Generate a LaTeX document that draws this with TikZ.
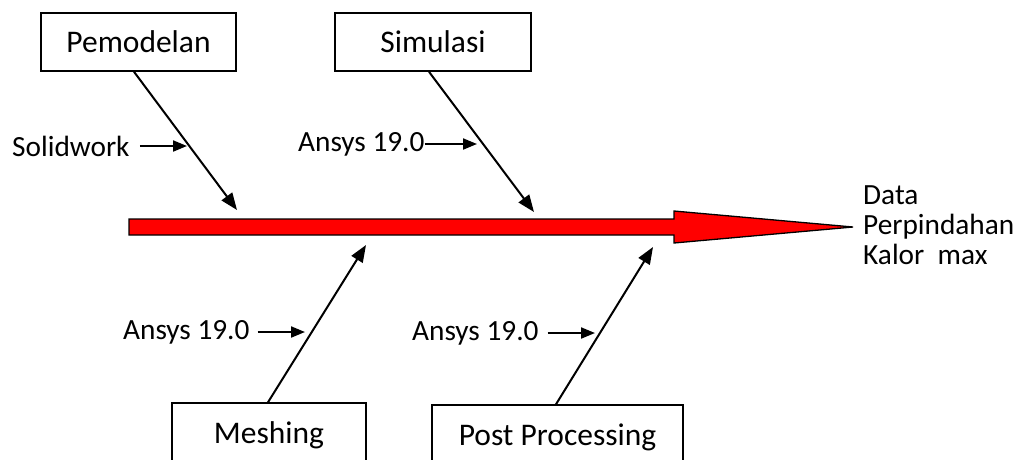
\documentclass[tikz,border=0pt]{standalone}
\usepackage{fontspec}
\setmainfont{Carlito}
\usetikzlibrary{arrows.meta,calc}
\begin{document}
\begin{tikzpicture}[x=1pt,y=-1pt,
  box/.style={draw,line width=1.5pt,minimum height=58pt,inner sep=0pt,font=\fontsize{31.5}{32}\selectfont},
  lbl/.style={font=\fontsize{29.3}{30}\selectfont,inner sep=0pt},
  bone/.style={line width=2pt,-{Triangle[length=17pt,width=13pt]}},
  tick/.style={line width=2pt,-{Triangle[length=14pt,width=11pt]}},
  spine/.style={fill=red,draw=black,line width=1.3pt,line join=miter}]
\useasboundingbox (0,0) rectangle (1016,459);
\clip (0,0) rectangle (1016,459);

% boxes
\node[box,minimum width=195pt] (pem) at (138.5,42) {Pemodelan};
\node[box,minimum width=196pt] (sim) at (433,42) {Simulasi};
\node[box,minimum width=194pt,minimum height=64pt] (mesh) at (269,435) {Meshing};
\node[box,minimum width=251pt,minimum height=64pt] (post) at (557.5,437) {Post Processing};

% main red arrow
\coordinate (tip) at (853,227);
\draw[spine] (129,219) -- (674,219) -- (674,211) -- (tip) -- (674,243) -- (674,235) -- (129,235) -- cycle;
\node[lbl,anchor=west,align=left] (data) at ($(tip)+(10,-2)$) {Data\\Perpindahan\\Kalor\ \ max};

% bones
\coordinate (t1) at (237,210);
\coordinate (t2) at (534,212);
\coordinate (t3) at (366,245);
\coordinate (t4) at (653,247);
\draw[bone] ($(pem.south)+(-4.5,0)$) -- (t1);
\draw[bone] ($(sim.south)+(-4,0)$) -- (t2);
\draw[bone] ($(mesh.north)+(-1,0)$) -- (t3);
\draw[bone] ($(post.north)+(-1.5,0)$) -- (t4);

% labels with small arrows
\node[lbl,anchor=west] (sw) at (12,146) {Solidwork};
\coordinate (c1) at (187,146);
\draw[tick] ([xshift=10pt]sw.east) -- (c1);

\node[lbl,anchor=west] (a1) at (298,144) {Ansys 19.0};
\coordinate (c2) at (477,144);
\draw[tick] (a1.east) -- (c2);

\node[lbl,anchor=west] (a2) at (123,332) {Ansys 19.0};
\coordinate (c3) at (305,332);
\draw[tick] ([xshift=8pt]a2.east) -- (c3);

\node[lbl,anchor=west] (a3) at (412,333) {Ansys 19.0};
\coordinate (c4) at (595,333);
\draw[tick] ([xshift=9pt]a3.east) -- (c4);
\end{tikzpicture}
\end{document}
